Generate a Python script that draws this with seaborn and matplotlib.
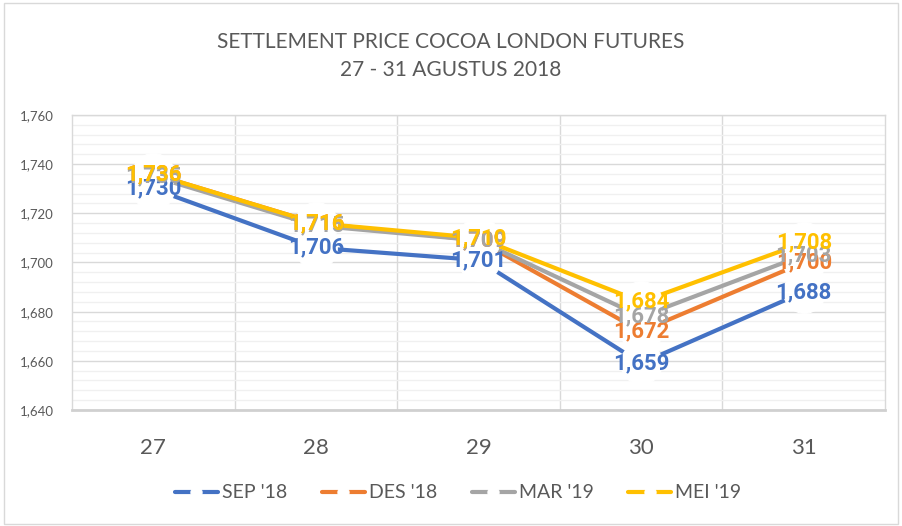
## Settlement price of cocoa London futures, 27-31 Aug 2018.
import matplotlib
matplotlib.use("Agg")
import matplotlib.pyplot as plt
import matplotlib.ticker as mticker
import seaborn as sns
import pandas as pd

days = ["27", "28", "29", "30", "31"]
sep18 = [1730, 1706, 1701, 1659, 1688]
des18 = [1736, 1716, 1709, 1672, 1700]
mar19 = [1735, 1715, 1709, 1678, 1703]
mei19 = [1736, 1716, 1710, 1684, 1708]
series_names = ["SEP '18", "DES '18", "MAR '19", "MEI '19"]
colors = ["#4472C4", "#ED7D31", "#A5A5A5", "#FFC000"]

sns.set_style("white")
plt.rcParams['font.family'] = ['Lato', 'DejaVu Sans']

fig = plt.figure(figsize=(9.02, 5.26), dpi=100)
ax = fig.add_axes([72 / 902, 116 / 526, 813 / 902, 295 / 526])

pos = list(range(len(days)))
for vals, name, color in zip([sep18, des18, mar19, mei19], series_names, colors):
    df = pd.DataFrame({'x': pos, 'y': vals})
    sns.lineplot(data=df, x='x', y='y', ax=ax, color=color, linewidth=3, label=name)
    line = ax.lines[-1]
    # white markers leave the gaps around each point, like the Excel original
    line.set_marker('o')
    line.set_markersize(30)
    line.set_markerfacecolor('white')
    line.set_markeredgecolor('white')
    for x, v in zip(pos, vals):
        ax.text(x, v, f"{v:,}", color=color, fontsize=16, fontweight='bold',
                family=['Roboto', 'DejaVu Sans'],
                ha='center', va='center', zorder=10)

ax.set_xlim(-0.5, 4.5)
ax.set_ylim(1640, 1760)
ax.set_xticks(pos)
ax.set_xticklabels(days)
ax.yaxis.set_major_locator(mticker.MultipleLocator(20))
ax.yaxis.set_minor_locator(mticker.MultipleLocator(4))
ax.xaxis.set_minor_locator(mticker.FixedLocator([0.5, 1.5, 2.5, 3.5]))
ax.yaxis.set_major_formatter(mticker.FuncFormatter(lambda v, p: f"{int(v):,}"))
ax.grid(which='major', axis='y', color='#D9D9D9', linewidth=1)
ax.grid(which='minor', axis='y', color='#F0F0F0', linewidth=1)
ax.grid(which='minor', axis='x', color='#D9D9D9', linewidth=1)
ax.grid(which='major', axis='x', visible=False)
ax.set_axisbelow(True)
ax.tick_params(axis='both', which='both', length=0)
ax.tick_params(axis='y', labelsize=9.5, labelcolor='#595959', pad=13)
ax.tick_params(axis='x', labelsize=16, labelcolor='#595959', pad=20)
ax.set_xlabel('')
ax.set_ylabel('')
for side in ['left', 'right', 'top']:
    ax.spines[side].set_color('#D9D9D9')
    ax.spines[side].set_linewidth(1)
ax.spines['bottom'].set_color('#D0D0D0')
ax.spines['bottom'].set_linewidth(2)

fig.text(0.5, 1 - 42 / 526, "SETTLEMENT PRICE COCOA LONDON FUTURES", ha='center',
         va='center', fontsize=15, color='#595959')
fig.text(0.5, 1 - 70 / 526, "27 - 31 AGUSTUS 2018", ha='center',
         va='center', fontsize=15, color='#595959')

ax.legend(loc='center', bbox_to_anchor=(0.475, (410 - 493) / 295), ncol=4,
          frameon=False, fontsize=14, labelcolor='#595959', handlelength=2.2,
          columnspacing=1.8, handletextpad=0.2, markerscale=0.27)

fig.patches.append(plt.Rectangle((0.004, 0.004), 0.992, 0.99, transform=fig.transFigure,
                                 fill=False, edgecolor='#D9D9D9', linewidth=1))

fig.savefig("out.png", dpi=100)
